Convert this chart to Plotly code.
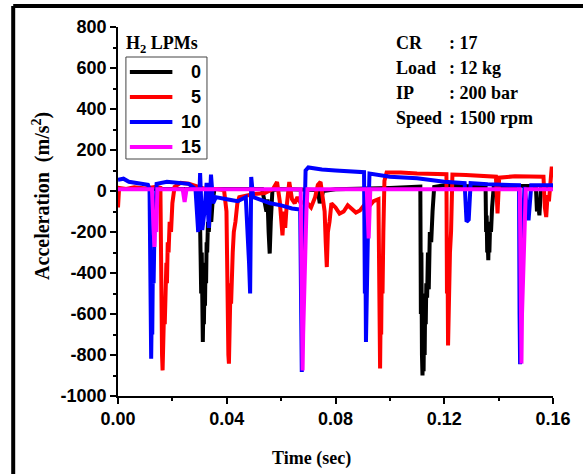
import plotly.graph_objects as go

# ---------------- data ----------------
categories = ["0", "5", "10", "15"]          # H2 LPMs
colors = ["#000000", "#ff0000", "#0000ff", "#ff00ff"]

t_0 = [0.000, 0.010, 0.020, 0.028, 0.0300, 0.0302, 0.0304, 0.0306, 0.0308, 0.0310, 0.0312, 0.0314,
       0.0316, 0.0318, 0.0320, 0.0322, 0.0324, 0.0326, 0.0328, 0.0331, 0.0334, 0.0338, 0.0343, 0.0348,
       0.0355, 0.037, 0.045, 0.053, 0.0546, 0.0550, 0.0554, 0.0558, 0.0562, 0.0568, 0.060, 0.066,
       0.0735, 0.0742, 0.0748, 0.0755, 0.080, 0.090, 0.100, 0.108, 0.1112, 0.1114, 0.1116, 0.1118,
       0.1120, 0.1122, 0.1124, 0.1126, 0.1128, 0.1130, 0.1132, 0.1134, 0.1137, 0.1140, 0.1143, 0.1147,
       0.1152, 0.1157, 0.1163, 0.120, 0.130, 0.1352, 0.1354, 0.1356, 0.1358, 0.1360, 0.1362, 0.1364,
       0.1366, 0.1369, 0.1372, 0.1376, 0.1382, 0.145, 0.1537, 0.1541, 0.1545, 0.1550, 0.1556, 0.160]
a_0 = [10, 10, 8, 10, 5, -250, -150, -500, -300, -600, -737, -550,
       -650, -450, -560, -350, -450, -250, -300, -150, -200, -100, -150, -50,
       10, 10, 8, 10, -100, -40, -200, -305, -150, 5, 10, 8,
       5, -60, -30, 0, 8, 10, 15, 20, 22, -600, -300, -800,
       -900, -750, -880, -600, -800, -500, -650, -450, -520, -300, -480, -200,
       -250, -100, 20, 28, 25, 20, -200, -120, -300, -250, -338, -220,
       -300, -150, -200, -80, 20, 25, 25, -100, -60, -119, 20, 25]

t_5 = [0.000, 0.0004, 0.003, 0.006, 0.010, 0.014, 0.0156, 0.0158, 0.0160, 0.0162, 0.0164, 0.0166,
       0.0168, 0.0170, 0.0172, 0.0174, 0.0176, 0.0178, 0.0180, 0.0183, 0.0186, 0.0190, 0.0195, 0.0200,
       0.0208, 0.023, 0.026, 0.029, 0.032, 0.036, 0.0390, 0.0399, 0.0402, 0.0404, 0.0406, 0.0408,
       0.0410, 0.0412, 0.0414, 0.0416, 0.0419, 0.0422, 0.0426, 0.0432, 0.0439, 0.0446, 0.050, 0.054,
       0.057, 0.0585, 0.0595, 0.0600, 0.0605, 0.0610, 0.0615, 0.0620, 0.0630, 0.0640, 0.0650, 0.0660,
       0.0672, 0.069, 0.071, 0.0725, 0.0735, 0.0745, 0.0755, 0.0760, 0.0764, 0.0768, 0.0772, 0.0778,
       0.0785, 0.080, 0.0815, 0.083, 0.0845, 0.086, 0.0875, 0.089, 0.0905, 0.092, 0.094, 0.0958,
       0.0960, 0.0962, 0.0964, 0.0966, 0.0968, 0.0970, 0.0973, 0.0976, 0.0980, 0.0988, 0.104, 0.110,
       0.116, 0.1208, 0.1210, 0.1212, 0.1214, 0.1216, 0.1218, 0.1221, 0.1225, 0.1230, 0.128, 0.1335,
       0.1390, 0.1396, 0.1402, 0.146, 0.152, 0.1565, 0.1570, 0.1575, 0.1580, 0.1585, 0.1595, 0.160]
a_5 = [-80, 15, 10, 18, 12, 20, 15, -500, -300, -800, -875, -700,
       -780, -550, -650, -450, -600, -350, -450, -250, -300, -150, -200, -60,
       20, 40, 35, 20, 10, 10, 5, -100, -600, -400, -800, -842,
       -600, -700, -450, -550, -370, -300, -200, -150, -60, -30, -15, -10,
       10, 44, -50, -150, -216, -100, -180, -80, 44, -40, -60, -30,
       -60, -50, -80, -30, 30, 44, -50, -100, -250, -371, -200, -150,
       -60, -80, -110, -100, -70, -90, -105, -95, -70, -80, -50, -40,
       -500, -300, -866, -600, -700, -400, -500, -200, 50, 90, 90, 85,
       85, 82, -500, -300, -753, -500, -600, -300, -200, 80, 78, 75,
       70, -109, 65, 72, 70, 70, -80, -127, -20, -50, 110, 110]

t_10 = [0.000, 0.002, 0.004, 0.007, 0.009, 0.011, 0.0116, 0.0118, 0.0120, 0.0122, 0.0124, 0.0126,
        0.0128, 0.0131, 0.0134, 0.0138, 0.0142, 0.018, 0.022, 0.026, 0.0285, 0.0295, 0.0302, 0.0310,
        0.0318, 0.0326, 0.0334, 0.0342, 0.0350, 0.036, 0.040, 0.044, 0.047, 0.0478, 0.0482, 0.0486,
        0.0490, 0.0497, 0.052, 0.056, 0.060, 0.064, 0.0670, 0.0672, 0.0674, 0.0676, 0.0678, 0.0680,
        0.0683, 0.0687, 0.0690, 0.0700, 0.075, 0.080, 0.085, 0.0905, 0.0908, 0.0910, 0.0912, 0.0914,
        0.0917, 0.0920, 0.0925, 0.100, 0.110, 0.120, 0.1275, 0.1282, 0.1290, 0.1297, 0.136, 0.142,
        0.1475, 0.1477, 0.1479, 0.1481, 0.1483, 0.1486, 0.1490, 0.1495, 0.1510, 0.1520, 0.160]
a_10 = [55, 60, 45, 40, 35, 30, 10, -400, -700, -818, -600, -700,
        -400, -450, -200, -80, 35, 45, 40, 35, 10, -200, 88, -190,
        -100, 40, -180, 80, -60, -30, -40, -50, -30, -200, -350, -500,
        68, -30, -40, -60, -70, -85, -90, -600, -400, -883, -600, -500,
        -300, -100, 100, 115, 105, 100, 97, 92, -500, -300, -737, -500,
        -350, -150, 85, 70, 62, 45, 38, -150, -140, 38, 33, 30,
        28, -600, -845, -500, -600, -300, -100, 20, -143, 28, 28]

t_15 = [0.000, 0.0125, 0.0130, 0.0134, 0.0137, 0.0141, 0.0145, 0.0238, 0.0245, 0.0252, 0.0672, 0.0675,
        0.0677, 0.0679, 0.0681, 0.0683, 0.0686, 0.0689, 0.0693, 0.0697, 0.0915, 0.0922, 0.0928, 0.1478,
        0.1480, 0.1482, 0.1484, 0.1486, 0.1488, 0.1491, 0.1495, 0.1500, 0.160]
a_15 = [8, 8, -150, -273, -120, -200, 8, 8, -54, 8, 8, -500,
        -300, -876, -700, -582, -500, -300, -100, 8, 8, -231, 8, 8,
        -500, -300, -842, -600, -500, -400, -200, 8, 8]

info_labels = ["CR", "Load", "IP", "Speed"]
info_values = [": 17", ": 12 kg", ": 200 bar", ": 1500 rpm"]

x_ticks = [0.00, 0.04, 0.08, 0.12, 0.16]
y_ticks = [800, 600, 400, 200, 0, -200, -400, -600, -800, -1000]

# ---------------- layout helpers ----------------
W, H = 583, 474
L, R, T, B = 118, 558, 27, 396


def px(x):
    return (x - L) / (R - L)


def py(y):
    return (B - y) / (B - T)


SERIF = "Liberation Serif"
SANS = "Liberation Sans"

fig = go.Figure()
series = [(t_0, a_0), (t_5, a_5), (t_10, a_10), (t_15, a_15)]
for name, col, (tt, aa) in zip(categories, colors, series):
    fig.add_trace(go.Scatter(x=tt, y=aa, mode="lines", name=name,
                             line=dict(color=col, width=4), showlegend=False))

shapes = []
annotations = []

# outer black frame (left and top visible)
shapes.append(dict(type="line", xref="paper", yref="paper", x0=px(12), x1=px(600), y0=py(6), y1=py(6),
                   line=dict(color="black", width=4)))
shapes.append(dict(type="line", xref="paper", yref="paper", x0=px(12), x1=px(12), y0=py(6), y1=py(490),
                   line=dict(color="black", width=4)))

# manual legend
shapes.append(dict(type="rect", xref="paper", yref="paper", x0=px(126), x1=px(208), y0=py(159), y1=py(57),
                   line=dict(color="#444444", width=1)))
annotations.append(dict(xref="paper", yref="paper", x=px(124), y=py(44), xanchor="left", yanchor="middle",
                        text="<b>H<sub>2</sub> LPMs</b>", showarrow=False,
                        font=dict(family=SERIF, size=18, color="black")))
rows = [72, 97, 122, 147]
for name, col, ry in zip(categories, colors, rows):
    shapes.append(dict(type="line", xref="paper", yref="paper", x0=px(130), x1=px(173), y0=py(ry), y1=py(ry),
                       line=dict(color=col, width=4)))
    annotations.append(dict(xref="paper", yref="paper", x=px(204), y=py(ry), xanchor="right", yanchor="middle",
                            text="<b>%s</b>" % name, showarrow=False,
                            font=dict(family=SANS, size=18, color="black")))

# info block
info_rows = [43, 68, 93, 118]
for lab, val, ry in zip(info_labels, info_values, info_rows):
    annotations.append(dict(xref="paper", yref="paper", x=px(397), y=py(ry), xanchor="left", yanchor="middle",
                            text="<b>%s</b>" % lab, showarrow=False,
                            font=dict(family=SERIF, size=18, color="black")))
    annotations.append(dict(xref="paper", yref="paper", x=px(451), y=py(ry), xanchor="left", yanchor="middle",
                            text="<b>%s</b>" % val, showarrow=False,
                            font=dict(family=SERIF, size=18, color="black")))

# axis titles
annotations.append(dict(xref="paper", yref="paper", x=px(40), y=py(196), xanchor="center", yanchor="middle",
                        text="<b>Acceleration  (m/s<sup>2</sup>)</b>", textangle=-90, showarrow=False,
                        font=dict(family=SERIF, size=20, color="black")))
annotations.append(dict(xref="paper", yref="paper", x=px(314), y=py(458), xanchor="center", yanchor="middle",
                        text="<b>Time (sec)</b>", showarrow=False,
                        font=dict(family=SERIF, size=18, color="black")))

fig.update_layout(
    width=W, height=H,
    margin=dict(l=L, r=W - R, t=T, b=H - B),
    paper_bgcolor="white", plot_bgcolor="white",
    shapes=shapes, annotations=annotations,
    xaxis=dict(range=[0, 0.16], tickvals=x_ticks, ticktext=["%.2f" % v for v in x_ticks],
               showgrid=False, zeroline=False, showline=True, linecolor="black", linewidth=1.5,
               ticks="outside", ticklen=6, tickwidth=1.5, tickcolor="black",
               minor=dict(dtick=0.02, ticks="outside", ticklen=3, tickwidth=1.5, tickcolor="black"),
               tickfont=dict(family=SANS, size=18, color="black", weight="bold")),
    yaxis=dict(range=[-1000, 800], tickvals=y_ticks, ticktext=[str(v) for v in y_ticks],
               showgrid=False, zeroline=False, showline=True, linecolor="black", linewidth=1.5,
               ticks="outside", ticklen=6, tickwidth=1.5, tickcolor="black",
               minor=dict(dtick=100, ticks="outside", ticklen=3, tickwidth=1.5, tickcolor="black"),
               tickfont=dict(family=SANS, size=18, color="black", weight="bold")),
)

fig.write_html("out.html")
